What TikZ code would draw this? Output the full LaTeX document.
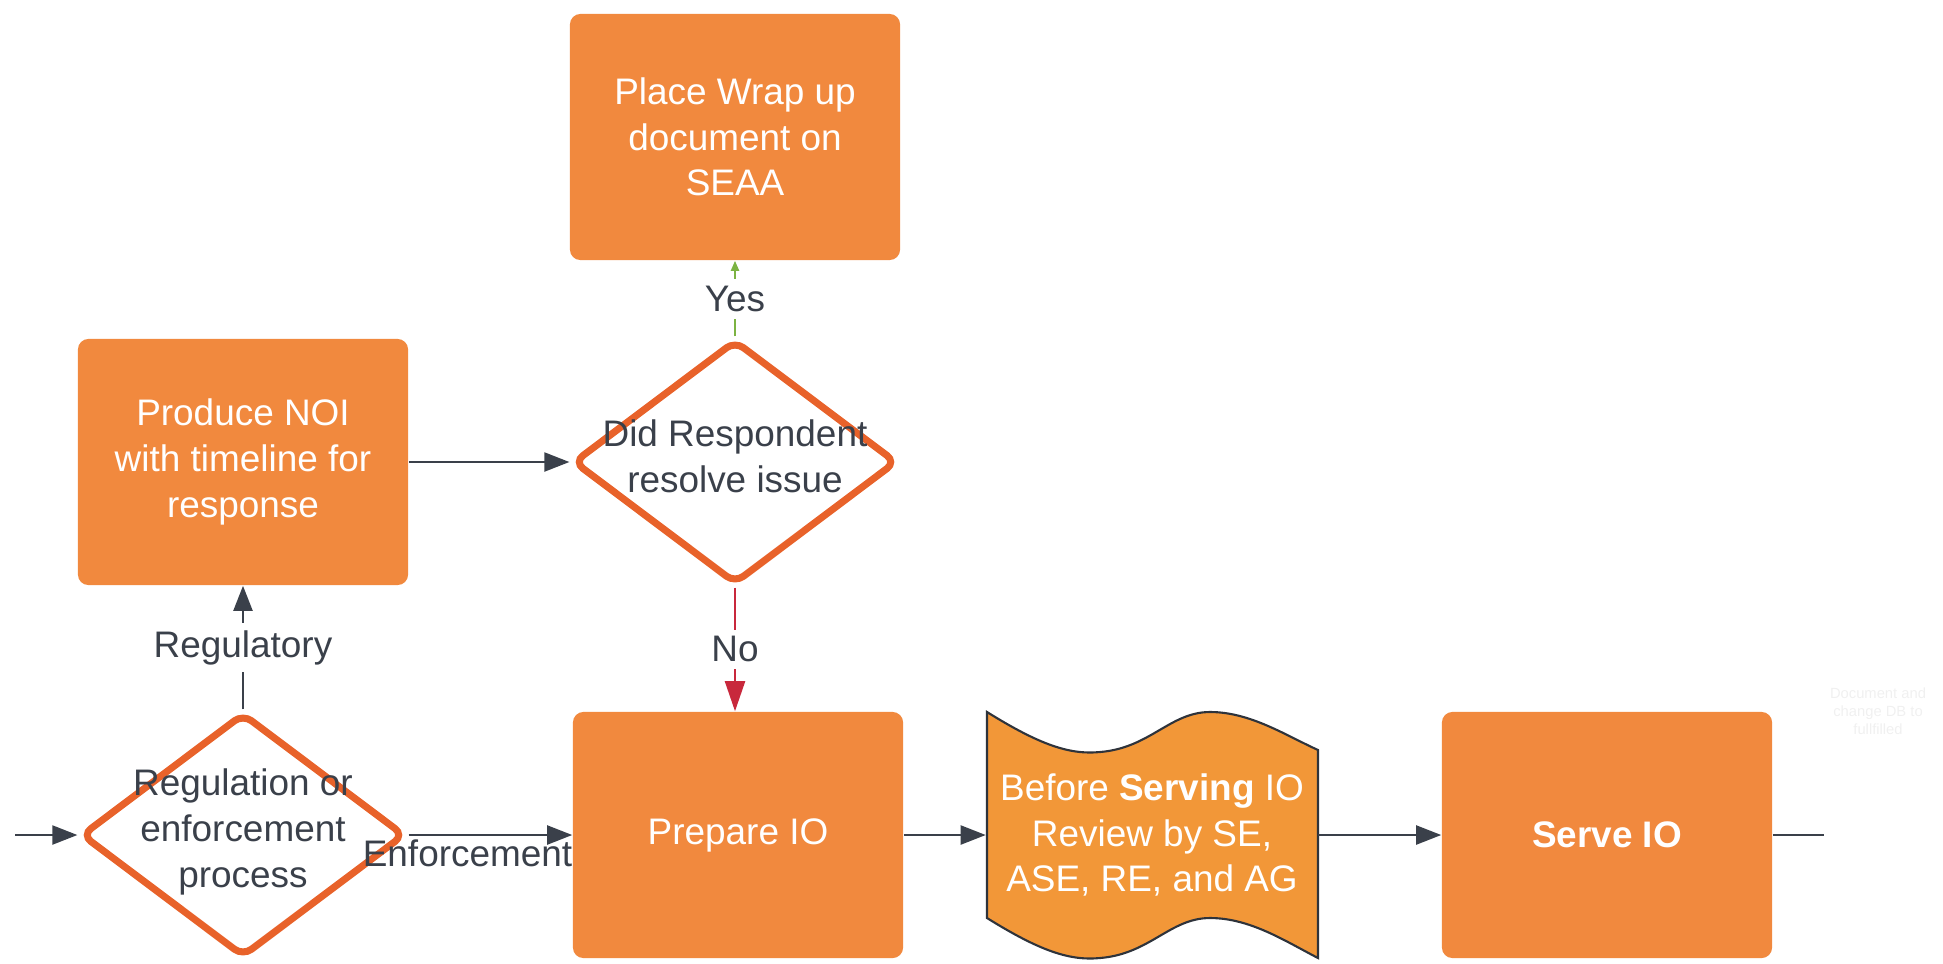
\documentclass[tikz,border=0pt]{standalone}
\usepackage{fontspec}
\setmainfont{Liberation Sans}
\usetikzlibrary{shapes.geometric,arrows.meta}
\definecolor{boxorange}{RGB}{241,137,62}
\definecolor{waveorange}{RGB}{242,151,56}
\definecolor{rimorange}{RGB}{232,98,42}
\definecolor{ink}{RGB}{58,64,74}
\definecolor{yesgreen}{RGB}{124,179,66}
\definecolor{nored}{RGB}{200,40,60}
\begin{document}
\begin{tikzpicture}
    [
        x=0.01cm, y=-0.01cm,
        font=\fontsize{10.5}{13}\selectfont,
        process/.style={rectangle, rounded corners=3pt, fill=boxorange, text=white, align=center, minimum width=3.3cm, minimum height=2.46cm, inner sep=0pt},
        decision/.style={diamond, draw=rimorange, line width=2pt, rounded corners=3pt, minimum width=3.24cm, minimum height=2.44cm, inner sep=0pt},
        flow/.style={-{Triangle[length=0.25cm, width=0.19cm]}, draw=ink, line width=0.6pt},
        lbl/.style={fill=white, text=ink, inner sep=2pt},
    ]
    \useasboundingbox (0,0) rectangle (1943,963);

    \node[process] (wrap) at (735,137) {Place Wrap up\\document on\\SEAA};
    \node[process] (noi) at (243,462) {Produce NOI\\with timeline for\\response};
    \node[decision] (resolve) at (735,462) {};
    \node[text=ink, align=center] (resolve-txt) at (735,456) {Did Respondent\\resolve issue};
    \node[decision] (reg) at (243,835) {};
    \node[text=ink, align=center] (reg-txt) at (243,832) {Regulation or\\enforcement\\process};
    \node[process] (prep) at (738,835) {Prepare IO};

    % tape shape
    \draw[fill=waveorange, draw=ink!80!black, line width=0.6pt] (987,712) .. controls (1040,745) and (1070,755) .. (1100,752) .. controls (1150,748) and (1170,712) .. (1210,712) .. controls (1250,712) and (1285,735) .. (1318,750) -- (1318,958) .. controls (1285,941) and (1250,918) .. (1210,918) .. controls (1170,918) and (1150,954) .. (1100,958) .. controls (1070,961) and (1040,951) .. (987,918) -- cycle;
    \node[minimum width=3.31cm, minimum height=2.1cm, inner sep=0pt, text=white, align=center] (review) at (1152,835) {Before {\bfseries Serving} IO\\Review by SE,\\ASE, RE, and AG};

    \node[process] (serve) at (1607,835) {\bfseries Serve IO};
    \node[text=black!6, align=center, font=\fontsize{4.2}{5.1}\selectfont] (note) at (1878,711) {Document and\\change DB to\\fullfilled};

    \coordinate (entry) at (15,835);
    \coordinate (exit) at (1824,835);

    \draw[flow] (entry) -- (reg.west);
    \draw[flow] (noi.east) -- (resolve.west);
    \draw[flow] (reg.north) -- node[lbl] (reg-lbl) {Regulatory} (noi.south);
    \draw[flow] (reg.east) -- node[pos=0.36, below, text=ink, inner sep=1pt] (enf-lbl) {Enforcement} (prep.west);
    \draw[flow, draw=yesgreen, -{Triangle[length=0.1cm, width=0.08cm]}] (resolve.north) -- node[lbl] (yes-lbl) {Yes} (wrap.south);
    \draw[flow, draw=nored, -{Triangle[length=0.3cm, width=0.2cm]}] (resolve.south) -- node[lbl] (no-lbl) {No} (resolve.south |- prep.north);
    \draw[flow] (prep.east) -- (review.west);
    \draw[flow] (review.east) -- (serve.west);
    \draw[draw=ink, line width=0.6pt] (serve.east) -- (exit);
\end{tikzpicture}
\end{document}
